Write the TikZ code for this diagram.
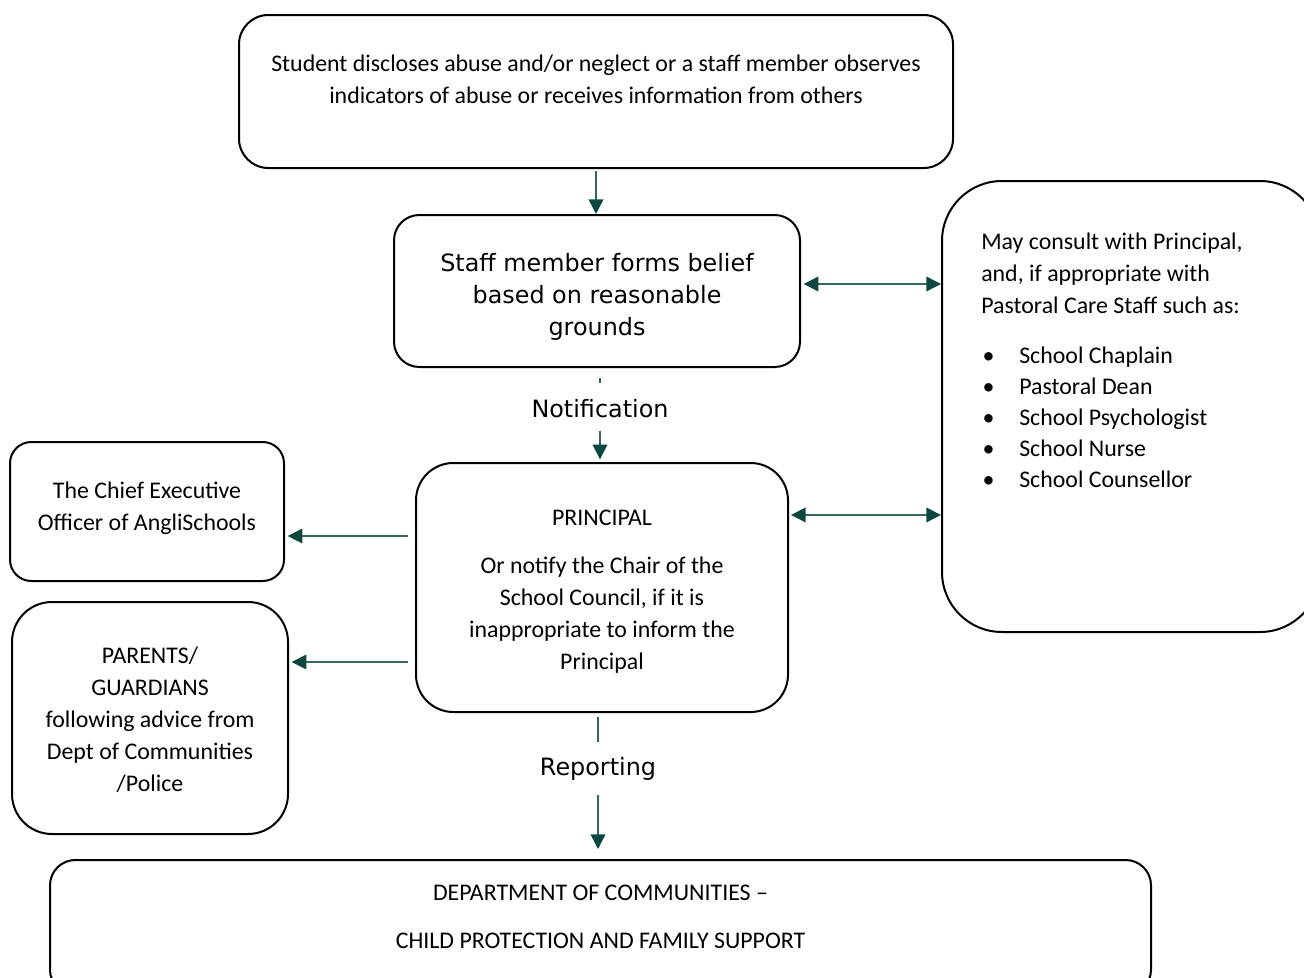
\documentclass[tikz,border=0pt]{standalone}
\usepackage{fontspec}
\setmainfont{Carlito}
\newfontfamily\vfont{DejaVu Sans}
\usetikzlibrary{arrows.meta,positioning}

\definecolor{tealline}{RGB}{52,104,97}
\definecolor{tealhead}{RGB}{12,72,63}

\newcommand\bul{\makebox[28.5pt][l]{\hspace{1pt}\textbullet}}

\tikzset{
  box/.style={draw, line width=1.5pt, rounded corners=#1, inner sep=0pt},
  txt/.style={inner sep=0pt, align=center, font=\fontsize{17.9}{24}\selectfont},
  big/.style={inner sep=0pt, align=center, font=\vfont\fontsize{17.9}{24}\selectfont},
  conn/.style={tealline, line width=1.1pt},
  arr/.style={conn, -{Triangle[width=11pt,length=11pt,color=tealhead]}},
  dbl/.style={conn, {Triangle[width=11pt,length=11pt,color=tealhead]}-{Triangle[width=11pt,length=11pt,color=tealhead]}},
}

\begin{document}
\begin{tikzpicture}[x=0.75pt, y=-0.75pt]
\useasboundingbox (0,0) rectangle (1304,978);

% boxes
\node[box=22pt, minimum width=535.5pt, minimum height=114.75pt] (top) at (596,91.5) {};
\node[box=19pt, minimum width=304.5pt, minimum height=114pt] (staff) at (597,291) {};
\node[box=45pt, minimum width=283.5pt, minimum height=338.25pt] (consult) at (1131,406.5) {};
\node[box=28pt, minimum width=279pt, minimum height=186.75pt] (principal) at (602,587.5) {};
\node[box=16pt, minimum width=205.5pt, minimum height=104.25pt] (ceo) at (147,511.5) {};
\node[box=30pt, minimum width=207pt, minimum height=174pt] (parents) at (150,718) {};
\node[box=19pt, minimum width=825.75pt, minimum height=101.25pt] (dept) at (600.5,927.5) {};

% texts
\node[txt] (toptext) at (596,79) {Student discloses abuse and/or neglect or a staff member observes\\ indicators of abuse or receives information from others};
\node[big] (stafftext) at (597,297) {Staff member forms belief\\ based on reasonable\\ grounds};
\node[txt, anchor=north west, align=left] (consulttext) at (981,233) {May consult with Principal,\\ and, if appropriate with\\ Pastoral Care Staff such as:\\[13pt]
  \bul School Chaplain\\[-0.7pt]
  \bul Pastoral Dean\\[-0.7pt]
  \bul School Psychologist\\[-0.7pt]
  \bul School Nurse\\[-0.7pt]
  \bul School Counsellor};
\node[txt] (principaltext) at (602,592) {PRINCIPAL\\[12pt] Or notify the Chair of the\\ School Council, if it is\\ inappropriate to inform the\\ Principal};
\node[txt] (ceotext) at (147,508.5) {The Chief Executive\\ Officer of AngliSchools};
\node[txt] (parentstext) at (150,720) {PARENTS/\\ GUARDIANS\\ following advice from\\ Dept of Communities\\ /Police};
\node[txt] (depttext) at (600.5,917) {DEPARTMENT OF COMMUNITIES --\\[12pt] CHILD PROTECTION AND FAMILY SUPPORT};

% labels on the way down
\node[big] (notif) at (600,409) {Notification};
\node[big] (report) at (598,769) {Reporting};

% connectors
\draw[arr] ([yshift=-1.5pt]top.south) -- (top.south |- staff.north);
\draw[dbl, shorten <=2pt] ([yshift=5.25pt]staff.east) -- ([yshift=5.25pt]staff.east -| consult.west);

\draw[conn] ([yshift=-7.5pt]staff.south -| notif.north) -- ++(0,5);
\draw[arr] ([yshift=-9pt]notif.south) -- ([yshift=2pt]notif.south |- principal.north);

\draw[dbl, shorten <=1.5pt] ([yshift=54.4pt]principal.east) -- ([yshift=54.4pt]principal.east -| consult.west);

\coordinate (ceoin) at ([yshift=-18.4pt,xshift=2pt]ceo.east);
\coordinate (parin) at ([yshift=42pt,xshift=2pt]parents.east);
\draw[arr] ([xshift=-5pt]principal.west |- ceoin) -- (ceoin);
\draw[arr] ([xshift=-5pt]principal.west |- parin) -- (parin);

\draw[conn] ([yshift=-3pt]principal.south -| report.north) -- ++(0,25);
\draw[arr] ([yshift=-11pt]report.south) -- ([yshift=7.5pt]report.south |- dept.north);
\end{tikzpicture}
\end{document}
